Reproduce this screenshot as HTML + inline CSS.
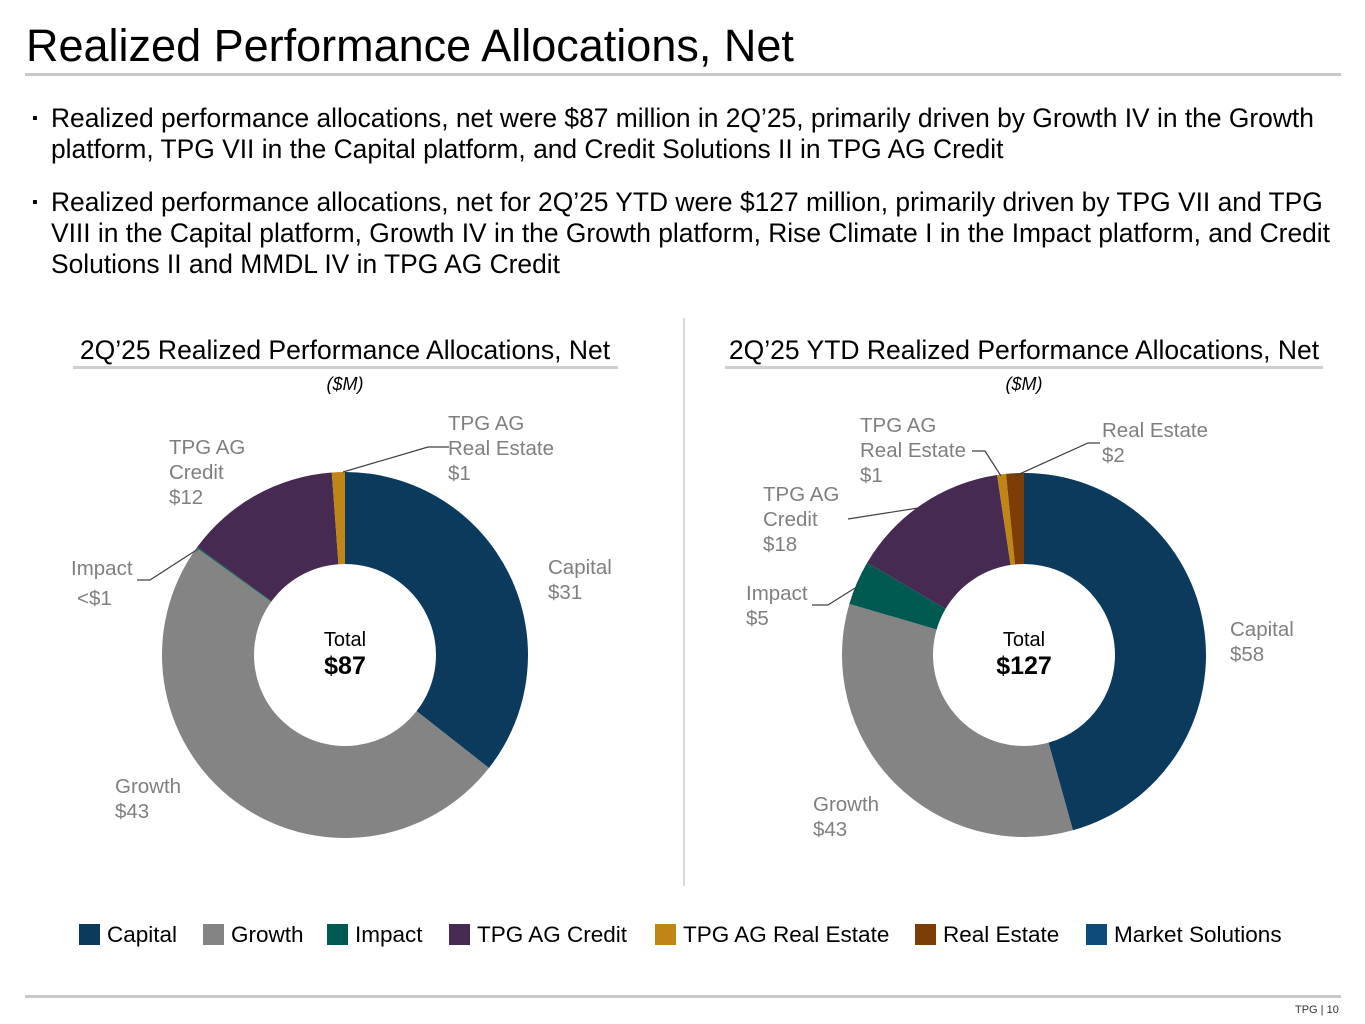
<!DOCTYPE html>
<html><head><meta charset="utf-8">
<style>
body{margin:0;width:1365px;height:1024px;background:#fff;font-family:"Liberation Sans",Arial,sans-serif;position:relative;overflow:hidden}
.a{position:absolute}
.b{white-space:nowrap}
</style></head><body>
<div class="a" style="left:26px;top:20px;font-size:45px;color:#000;">Realized Performance Allocations, Net</div>
<div class="a" style="left:25px;top:73px;width:1316px;height:3px;background:#c8c8c8"></div>
<div class="a b" style="left:32px;top:103px;font-size:26.4px;line-height:31px;color:#000"><span style="position:absolute;left:0;font-size:16px">▪</span><div style="margin-left:19px">Realized performance allocations, net were $87 million in 2Q’25, primarily driven by Growth IV in the Growth<br>platform, TPG VII in the Capital platform, and Credit Solutions II in TPG AG Credit</div></div>
<div class="a b" style="left:32px;top:187px;font-size:26.4px;line-height:31px;color:#000"><span style="position:absolute;left:0;font-size:16px">▪</span><div style="margin-left:19px">Realized performance allocations, net for 2Q’25 YTD were $127 million, primarily driven by TPG VII and TPG<br>VIII in the Capital platform, Growth IV in the Growth platform, Rise Climate I in the Impact platform, and Credit<br>Solutions II and MMDL IV in TPG AG Credit</div></div>
<div class="a" style="left:683px;top:318px;width:2px;height:568px;background:#d9d9d9"></div>
<svg class="a" style="left:0;top:0" width="1365" height="1024" id="svg"></svg>
<div class="a" style="left:25px;top:995px;width:1316px;height:3px;background:#c8c8c8"></div>
<div class="a" style="left:1295px;top:1004px;font-size:11px;color:#333">TPG | 10</div>
<script>
const categories=["Capital","Growth","Impact","TPG AG Credit","TPG AG Real Estate","Real Estate","Market Solutions"];
const colors=["#0b3a5c","#848484","#005a52","#472a52","#bf8516","#7d3d06","#0e4b7a"];
const qValues=[31,43,0.1,12,1,0,0];
const ytdValues=[58,43,5,18,1,2,0];
const qTotal="$87", ytdTotal="$127";
const svg=document.getElementById('svg');
const NS="http://www.w3.org/2000/svg";
function mk(t,a,p){const e=document.createElementNS(NS,t);for(const k in a)e.setAttribute(k,a[k]);(p||svg).appendChild(e);return e;}
function txt(x,y,s,size,fill,anchor,weight){const e=mk('text',{x:x,y:y,'font-size':size,fill:fill,'text-anchor':anchor||'start','font-weight':weight||'normal','font-family':'Liberation Sans, Arial, sans-serif'});e.textContent=s;return e;}
function donut(cx,cy,R,r,vals,name){
  const tot=vals.reduce((a,b)=>a+b,0);let ang=0;
  const pt=(rad,a)=>[cx+rad*Math.sin(a),cy-rad*Math.cos(a)];
  vals.forEach((v,i)=>{if(v<=0)return;
    const a0=ang/tot*2*Math.PI,a1=(ang+v)/tot*2*Math.PI;ang+=v;
    const l=(a1-a0)>Math.PI?1:0;
    const p0=pt(R,a0),p1=pt(R,a1),q1=pt(r,a1),q0=pt(r,a0);
    const e=mk('path',{d:`M${p0} A${R},${R} 0 ${l} 1 ${p1} L${q1} A${r},${r} 0 ${l} 0 ${q0}Z`,fill:colors[i]});
    
    
  });
}
function title(x1,x2,cx,s,nm){const t=txt(cx,359,s,26.5,'#000','middle');
  mk('rect',{x:x1,y:366,width:x2-x1,height:3,fill:'#d0d0d0'});
  const u=txt(cx,390,'($M)',18,'#000','middle');u.setAttribute('font-style','italic');}
title(73,618,345,'2Q’25 Realized Performance Allocations, Net','q');
title(725,1323,1024,'2Q’25 YTD Realized Performance Allocations, Net','ytd');
donut(345,655,183,91,qValues,'q');
donut(1024,655,182,91,ytdValues,'ytd');
txt(345,646,'Total',20,'#000','middle');txt(345,674,qTotal,25,'#000','middle','bold');
txt(1024,646,'Total',20,'#000','middle');txt(1024,674,ytdTotal,25,'#000','middle','bold');
const G='#7f7f7f';
function lbl(x,y,lines){lines.forEach((s,i)=>txt(x,y+i*25,s,20.5,G));}
function ln(pts){mk('polyline',{points:pts,fill:'none',stroke:'#404040','stroke-width':1.2});}
lbl(548,574,['Capital','$'+qValues[0]]);lbl(115,793,['Growth','$'+qValues[1]]);
lbl(71,575,['Impact']);txt(77,605,'<$1',20.5,G);ln('137,580 150,580 198,549');
lbl(169,454,['TPG AG','Credit','$'+qValues[3]]);
lbl(448,430,['TPG AG','Real Estate','$'+qValues[4]]);ln('449,447 428,447 343,472');
lbl(1230,636,['Capital','$'+ytdValues[0]]);lbl(813,811,['Growth','$'+ytdValues[1]]);
lbl(746,600,['Impact','$'+ytdValues[2]]);ln('812,605 828,605 855,588');
lbl(763,501,['TPG AG','Credit','$'+ytdValues[3]]);ln('848,519 918,508');
lbl(860,432,['TPG AG','Real Estate','$'+ytdValues[4]]);ln('972,451 985,451 1001,476');
lbl(1102,437,['Real Estate','$'+ytdValues[5]]);ln('1100,443 1088,443 1015,476');
const lxs=[79,203,327,449,655,915,1086];
categories.forEach((c,i)=>{const g=mk('g',{});
  mk('rect',{x:lxs[i],y:924,width:21,height:21,fill:colors[i]},g);
  const t=txt(lxs[i]+28,942,c,22.5,'#000');g.appendChild(t);});
</script>
</body></html>
